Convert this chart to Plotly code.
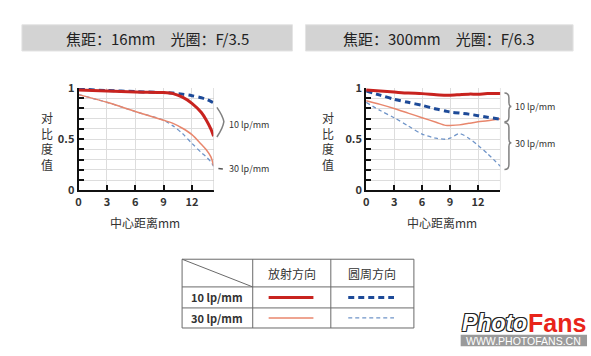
import plotly.graph_objects as go

W, H = 591, 356

# ---------------- data ----------------
left_x = [0, 3, 6, 9, 10, 11, 12, 13, 13.5, 14, 14.3]
left_10_radial = [0.98, 0.97, 0.96, 0.955, 0.945, 0.91, 0.85, 0.76, 0.69, 0.60, 0.53]
left_10_tangential = [0.99, 0.975, 0.965, 0.955, 0.95, 0.94, 0.925, 0.905, 0.89, 0.87, 0.855]
left_30_radial = [0.935, 0.86, 0.77, 0.685, 0.655, 0.607, 0.545, 0.45, 0.40, 0.33, 0.24]
left_30_tangential = [0.935, 0.86, 0.77, 0.685, 0.63, 0.555, 0.46, 0.37, 0.33, 0.28, 0.235]

right_x = [0, 1.5, 3, 4.5, 6, 7.5, 8.5, 9, 10, 11, 12, 13, 14.4]
right_10_radial = [0.98, 0.97, 0.96, 0.95, 0.945, 0.935, 0.93, 0.93, 0.935, 0.94, 0.94, 0.945, 0.945]
right_10_tangential = [0.97, 0.93, 0.89, 0.86, 0.83, 0.795, 0.775, 0.765, 0.755, 0.745, 0.73, 0.715, 0.695]
right_30_radial = [0.875, 0.84, 0.80, 0.755, 0.71, 0.665, 0.635, 0.635, 0.64, 0.655, 0.67, 0.68, 0.70]
right_30_tangential = [0.86, 0.78, 0.71, 0.63, 0.55, 0.51, 0.50, 0.51, 0.555, 0.51, 0.44, 0.36, 0.235]

x_ticks = [0, 3, 6, 9, 12]
y_ticks = [0, 0.1, 0.2, 0.3, 0.4, 0.5, 0.6, 0.7, 0.8, 0.9, 1.0]
y_ticktext = ["0", "", "", "", "", "0.5", "", "", "", "", "1"]

left_title = "焦距：16mm　光圈：F/3.5"
right_title = "焦距：300mm　光圈：F/6.3"
y_title = "对<br>比<br>度<br>值"
x_title = "中心距离mm"
col_headers = ["放射方向", "圆周方向"]
row_labels = ["10 lp/mm", "30 lp/mm"]

# ---------------- styles ----------------
RED = "#c8231f"
BLUE = "#1d4a98"
SALMON = "#e8866c"
LBLUE = "#6f94c8"
FONT = "Noto Sans CJK SC"
TXT = "#333333"

def X(px):
    return px / W

def Y(py):
    return 1 - py / H

styles = [
    dict(color=RED, width=3, dash="solid"),
    dict(color=BLUE, width=3, dash="6px,4px"),
    dict(color=SALMON, width=1.5, dash="solid"),
    dict(color=LBLUE, width=1.3, dash="4px,3px"),
]

fig = go.Figure()
for xs, series, xa in [
    (left_x, [left_10_radial, left_10_tangential, left_30_radial, left_30_tangential], "x"),
    (right_x, [right_10_radial, right_10_tangential, right_30_radial, right_30_tangential], "x2"),
]:
    for i in [3, 2, 1, 0]:
        fig.add_trace(go.Scatter(
            x=xs, y=series[i], mode="lines", xaxis=xa, yaxis="y" if xa == "x" else "y2",
            line=dict(shape="spline", smoothing=0.8, **styles[i]),
            showlegend=False, hoverinfo="skip", cliponaxis=False,
        ))

ydom = [Y(190), Y(82.7)]
axis_common = dict(
    showline=True, linecolor="#111111", linewidth=2, mirror=False,
    ticks="inside", ticklen=5, tickcolor="#111111", tickwidth=1.5,
    showgrid=True, gridcolor="#dddddd", gridwidth=1, zeroline=False,
    tickfont=dict(family=FONT, size=11, color=TXT, weight="bold"),
    fixedrange=True,
)
fig.update_layout(
    width=W, height=H, autosize=False,
    margin=dict(l=0, r=0, t=0, b=0, pad=0),
    paper_bgcolor="white", plot_bgcolor="white",
    xaxis=dict(domain=[X(76), X(211.7)], range=[0, 14.3], tickvals=x_ticks,
               anchor="y", **axis_common),
    yaxis=dict(domain=ydom, range=[0, 1], tickvals=y_ticks, ticktext=y_ticktext,
               anchor="x", **axis_common),
    xaxis2=dict(domain=[X(365), X(500)], range=[0, 14.4], tickvals=x_ticks,
                anchor="y2", **axis_common),
    yaxis2=dict(domain=ydom, range=[0, 1], tickvals=y_ticks, ticktext=y_ticktext,
                anchor="x2", **axis_common),
)

shapes = []
ann = []

for xa, ya, xmax in [("x", "y", 14.3), ("x2", "y2", 14.4)]:
    shapes.append(dict(type="line", xref=xa, yref=ya, x0=xmax, x1=xmax, y0=0, y1=1,
                       line=dict(color="#cccccc", width=1)))

for (x0, x1), txt in [((19, 291), left_title), ((304, 573), right_title)]:
    shapes.append(dict(type="rect", xref="paper", yref="paper",
                       x0=X(x0), x1=X(x1), y0=Y(44), y1=Y(16.5),
                       fillcolor="#d3d3d3", line=dict(color="#e4e4e4", width=1)))
    ann.append(dict(xref="paper", yref="paper", x=X((x0 + x1) / 2), y=Y(30.5),
                    text=txt, showarrow=False, xanchor="center", yanchor="middle",
                    font=dict(family=FONT, size=15, color="#222222")))

for yx, xx in [(44, 143), (327, 441)]:
    ann.append(dict(xref="paper", yref="paper", x=X(yx), y=Y(138), text=y_title,
                    showarrow=False, xanchor="center", yanchor="middle",
                    font=dict(family=FONT, size=12, color=TXT)))
    ann.append(dict(xref="paper", yref="paper", x=X(xx), y=Y(223.5), text=x_title,
                    showarrow=False, xanchor="center", yanchor="middle",
                    font=dict(family=FONT, size=12, color=TXT)))

gray = "#808080"
shapes.append(dict(type="path", xref="paper", yref="paper",
                   path=f"M {X(215)} {Y(103)} Q {X(221)} {Y(112)} {X(222)} {Y(118)} Q {X(221)} {Y(125)} {X(215)} {Y(134)}",
                   line=dict(color=gray, width=1.5)))
ann.append(dict(xref="paper", yref="paper", x=X(225), y=Y(121), text="10 lp/mm",
                showarrow=False, xanchor="left", yanchor="middle",
                font=dict(family=FONT, size=9, color=TXT)))
shapes.append(dict(type="line", xref="paper", yref="paper",
                   x0=X(216.5), x1=X(221), y0=Y(167), y1=Y(167.5),
                   line=dict(color="#555555", width=1.5)))
ann.append(dict(xref="paper", yref="paper", x=X(225), y=Y(167), text="30 lp/mm",
                showarrow=False, xanchor="left", yanchor="middle",
                font=dict(family=FONT, size=9, color=TXT)))

def brace(xe, y0, y1, ym, depth=4.5, tip=2.5):
    xm = xe + depth
    xt = xm + tip
    return (f"M {X(xe)} {Y(y0)} Q {X(xm)} {Y(y0)} {X(xm)} {Y(y0 + 5)} "
            f"L {X(xm)} {Y(ym - 4)} Q {X(xm)} {Y(ym)} {X(xt)} {Y(ym)} "
            f"Q {X(xm)} {Y(ym)} {X(xm)} {Y(ym + 4)} "
            f"L {X(xm)} {Y(y1 - 5)} Q {X(xm)} {Y(y1)} {X(xe)} {Y(y1)}")

shapes.append(dict(type="path", xref="paper", yref="paper", path=brace(504, 88, 118, 102),
                   line=dict(color=gray, width=1.5)))
shapes.append(dict(type="path", xref="paper", yref="paper", path=brace(504, 119, 168, 140),
                   line=dict(color=gray, width=1.5)))
ann.append(dict(xref="paper", yref="paper", x=X(513), y=Y(102.5), text="10 lp/mm",
                showarrow=False, xanchor="left", yanchor="middle",
                font=dict(family=FONT, size=9, color=TXT)))
ann.append(dict(xref="paper", yref="paper", x=X(513), y=Y(141), text="30 lp/mm",
                showarrow=False, xanchor="left", yanchor="middle",
                font=dict(family=FONT, size=9, color=TXT)))

tl = "#6a6a6a"
tx0, tx1, ty0, ty1 = 180, 413, 262, 334
cx = [180, 251, 329.5, 413]
ry = [262, 291, 313, 334]
shapes.append(dict(type="rect", xref="paper", yref="paper", x0=X(tx0), x1=X(tx1),
                   y0=Y(ty1), y1=Y(ty0), line=dict(color=tl, width=1)))
for c in cx[1:-1]:
    shapes.append(dict(type="line", xref="paper", yref="paper", x0=X(c), x1=X(c),
                       y0=Y(ty0), y1=Y(ty1), line=dict(color=tl, width=1)))
for r in ry[1:-1]:
    shapes.append(dict(type="line", xref="paper", yref="paper", x0=X(tx0), x1=X(tx1),
                       y0=Y(r), y1=Y(r), line=dict(color=tl, width=1)))
shapes.append(dict(type="line", xref="paper", yref="paper", x0=X(cx[0]), x1=X(cx[1]),
                   y0=Y(ry[0]), y1=Y(ry[1]), line=dict(color=tl, width=1)))
for i, h in enumerate(col_headers):
    ann.append(dict(xref="paper", yref="paper", x=X((cx[i + 1] + cx[i + 2]) / 2), y=Y(276.5),
                    text=h, showarrow=False, xanchor="center", yanchor="middle",
                    font=dict(family=FONT, size=12, color=TXT)))
for j, lab in enumerate(row_labels):
    ann.append(dict(xref="paper", yref="paper", x=X(215), y=Y((ry[j + 1] + ry[j + 2]) / 2),
                    text=lab, showarrow=False, xanchor="center", yanchor="middle",
                    font=dict(family=FONT, size=11, color=TXT, weight="bold")))
samples = [[styles[0], styles[1]], [styles[2], styles[3]]]
for j in range(2):
    yy = (ry[j + 1] + ry[j + 2]) / 2
    for i in range(2):
        st = samples[j][i]
        xa0, xa1 = (267, 312) if i == 0 else (347, 393)
        shapes.append(dict(type="line", xref="paper", yref="paper", x0=X(xa0), x1=X(xa1),
                           y0=Y(yy), y1=Y(yy),
                           line=dict(color=st["color"], width=st["width"], dash=st["dash"])))

outline = "1px 1px 0 #222, -1px -1px 0 #222, 1px -1px 0 #222, -1px 1px 0 #222"
ann.append(dict(xref="paper", yref="paper", x=X(459), y=Y(329), text="<i>Photo</i>",
                showarrow=False, xanchor="left", yanchor="middle",
                font=dict(family="Liberation Sans", size=23, color="white", weight="bold",
                          shadow=outline)))
ann.append(dict(xref="paper", yref="paper", x=X(588), y=Y(329), text="Fans",
                showarrow=False, xanchor="right", yanchor="middle",
                font=dict(family="Liberation Sans", size=25, color="#e8241a", weight="bold")))
shapes.append(dict(type="rect", xref="paper", yref="paper", x0=X(460), x1=X(587),
                   y0=Y(353), y1=Y(341), fillcolor="#9a9a9a", line=dict(width=0)))
ann.append(dict(xref="paper", yref="paper", x=X(523.5), y=Y(347.2), text="WWW.PHOTOFANS.CN",
                showarrow=False, xanchor="center", yanchor="middle",
                font=dict(family="Liberation Sans", size=10.5, color="white")))

fig.update_layout(shapes=shapes, annotations=ann)
fig.write_html("out.html", config={"displayModeBar": False},
               post_script="document.body.style.margin='0';document.body.style.overflow='hidden';")
